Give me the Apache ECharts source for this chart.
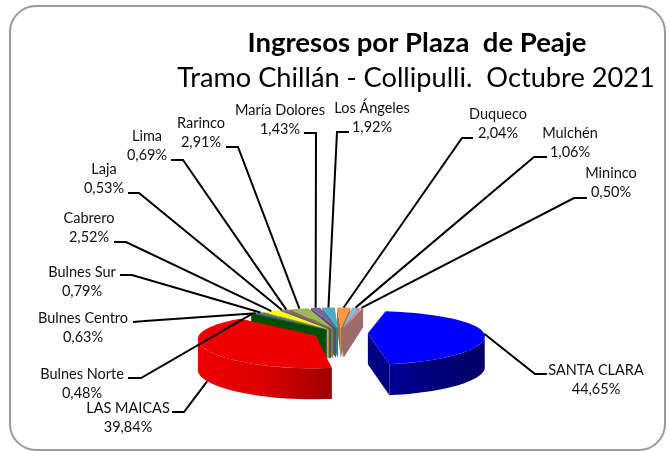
<!DOCTYPE html>
<html>
<head>
<meta charset="utf-8">
<style>html,body{margin:0;padding:0;background:#fff}#c{width:670px;height:451px}</style>
<script src="https://cdn.jsdelivr.net/npm/echarts@6/dist/echarts.min.js"></script>
</head>
<body>
<div id="c"></div>
<script>
// ---- data ----
const categories = ['SANTA CLARA','LAS MAICAS','Bulnes Norte','Bulnes Centro','Bulnes Sur','Cabrero','Laja','Lima','Rarinco','María Dolores','Los Ángeles','Duqueco','Mulchén','Mininco'];
const shares = [44.65,39.84,0.48,0.63,0.79,2.52,0.53,0.69,2.91,1.43,1.92,2.04,1.06,0.50];
const colors = ['#0000ff','#ee0000','#006a00','#4f6f9f','#5f6f8f','#ffff00','#4f81bd','#c0504d','#9bbb59','#8064a2','#4bacc6','#f79646','#95b3d7','#d99694'];
const explode = [0.24,0.23,0.18,0.18,0.18,0.18,0.18,0.18,0.18,0.18,0.18,0.18,0.18,0.18];

// ---- presentation ----
const labelCenters = [[596,370],[128,408],[82,374],[83,318],[82,272],[89,218],[104,169],[147,136],[201,123],[280,110],[372,108],[498,114],[570,133],[611,173]];
const leaderElbows = [[[547,374],[535,374]],[[172,412],[184,412]],[[128,378],[141,378]],[[133,322],[145,321]],[[120,275],[132,275]],[[114,242],[126,242]],[[128,193],[139,193]],[[171,160],[183,160]],[[226,147],[238,147]],[[304,133],[316,133]],[[349,132],[337,132]],[[473,138],[462,138]],[[547,157],[534,157]],[[587,198],[574,198]]];
const leaderDrop = [0,1,0,0,0,0,0,0,0,0,0,0,0,0];
const leaderShift = [0,-3,0,0,0,0,0,0,0,0,0,0,0,0];
const view = {cx:340, cy:333, R:116, D:26, k:0.17, kx:0.1, H:31, Hk:10, start:11};
const font = 'Lato, Carlito, "Open Sans", sans-serif';

const rad = d => d*Math.PI/180;
function project(u,v,h){
  const s = 1/(1+view.k*v), sx = 1/(1+view.kx*v);
  return [view.cx+view.R*u*sx, view.cy-view.D*v*s+h*(view.H-view.Hk*Math.max(v,0))];
}
function shade(hex,f){
  const n=parseInt(hex.slice(1),16);
  const c=[n>>16&255,n>>8&255,n&255].map(x=>Math.round(x*f));
  return 'rgb('+c.join(',')+')';
}
// slice angles, clockwise from the top
const total = shares.reduce((a,b)=>a+b,0);
let acc = view.start;
const slices = shares.map((p,i)=>{
  const a0=acc, a1=acc+p/total*360; acc=a1;
  return {i,a0,a1,mid:(a0+a1)/2,e:explode[i]};
});
function rimPoint(sl,deg,h){
  const ox=sl.e*Math.sin(rad(sl.mid)), oy=sl.e*Math.cos(rad(sl.mid));
  return project(Math.sin(rad(deg))+ox,Math.cos(rad(deg))+oy,h);
}
function arcPts(sl,from,to,h){
  const n=Math.max(2,Math.ceil((to-from)/3)), pts=[];
  for(let j=0;j<=n;j++) pts.push(rimPoint(sl,from+(to-from)*j/n,h));
  return pts;
}
function apex(sl,h){
  return project(sl.e*Math.sin(rad(sl.mid)),sl.e*Math.cos(rad(sl.mid)),h);
}
function sliceChildren(sl){
  const col=colors[sl.i], out=[];
  const face=(deg)=>({type:'polygon',shape:{points:[apex(sl,0),rimPoint(sl,deg,0),rimPoint(sl,deg,1),apex(sl,1)]},
    style:{fill:shade(col,sl.i<2?0.5:0.72)},silent:true});
  if(Math.sin(rad(sl.a0))<0) out.push(face(sl.a0));
  if(Math.sin(rad(sl.a1))>0) out.push(face(sl.a1));
  const w0=Math.max(sl.a0,95), w1=Math.min(sl.a1,265);
  if(w1>w0){
    const top=arcPts(sl,w0,w1,0), bot=arcPts(sl,w0,w1,1).reverse();
    out.push({type:'polygon',shape:{points:top.concat(bot)},
      style:{fill:new echarts.graphic.LinearGradient(0,0,1,0,[
        {offset:0,color:shade(col,sl.i===1?1:0.58)},
        {offset:sl.i===1?0.45:0.5,color:shade(col,sl.i===1?0.93:0.48)},
        {offset:1,color:shade(col,sl.i===1?0.66:0.40)}])},silent:true});
  }
  out.push({type:'polygon',shape:{points:[apex(sl,0)].concat(arcPts(sl,sl.a0,sl.a1,0))},style:{fill:col},silent:true});
  return out;
}
// back-to-front painting
const paintOrder = slices.slice().sort((a,b)=>{
  const rank=s=>s.i<2?1:0;
  if(rank(a)!==rank(b)) return rank(a)-rank(b);
  return Math.cos(rad(b.mid))-Math.cos(rad(a.mid));
});
const fmt = v => v.toFixed(2).replace('.',',')+'%';

const chart = echarts.init(document.getElementById('c'),null,{renderer:'canvas'});
chart.setOption({
  animation:false,
  backgroundColor:'#ffffff',
  graphic:[{type:'rect',shape:{x:10,y:6,width:655,height:444,r:26},style:{fill:'none',stroke:'#9a9a9a',lineWidth:2},silent:true,z:-1}],
  title:[
    {text:'Ingresos por Plaza  de Peaje',left:412,top:24,textAlign:'center',textStyle:{fontFamily:font,fontWeight:'bold',fontSize:27.5,color:'#000'}},
    {text:'Tramo Chillán - Collipulli.  Octubre 2021',left:411,top:60,textAlign:'center',textStyle:{fontFamily:font,fontWeight:'normal',fontSize:27.2,color:'#000'}}
  ],
  series:[
    {type:'custom',coordinateSystem:'none',silent:true,z:2,
      data:paintOrder.map(s=>({name:categories[s.i],value:[shares[s.i],s.i]})),
      renderItem(params,api){
        const sl=slices[api.value(1)];
        return {type:'group',children:sliceChildren(sl)};
      }},
    {type:'custom',coordinateSystem:'none',silent:true,z:3,
      data:categories.map((c,i)=>({name:c,value:[shares[i],i]})),
      renderItem(params,api){
        const i=api.value(1), sl=slices[i], el=leaderElbows[i], lc=labelCenters[i];
        const end=rimPoint(sl,sl.mid+leaderShift[i],leaderDrop[i]);
        return {type:'group',children:[
          {type:'polyline',shape:{points:[el[0],el[1],end]},style:{stroke:'#000',lineWidth:2,fill:null},silent:true},
          {type:'text',x:lc[0],y:lc[1],style:{text:categories[i],fontFamily:font,fontSize:14.5,fill:'#111',align:'center',verticalAlign:'middle'},silent:true},
          {type:'text',x:lc[0],y:lc[1]+19.5,style:{text:fmt(shares[i]),fontFamily:font,fontSize:14.5,fill:'#111',align:'center',verticalAlign:'middle'},silent:true}
        ]};
      }}
  ]
});
</script>
</body>
</html>
